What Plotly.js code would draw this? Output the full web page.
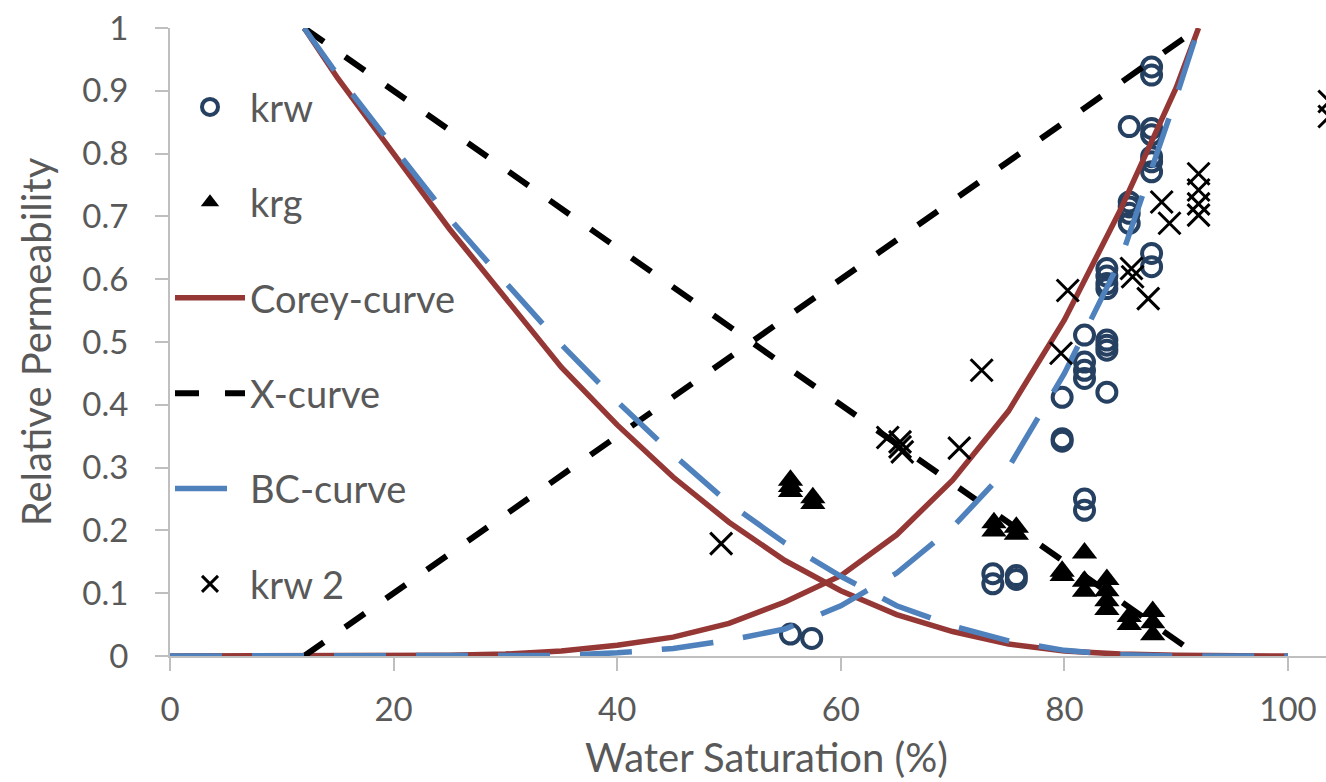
<!DOCTYPE html>
<html>
<head>
<meta charset="utf-8">
<script src="https://cdn.plot.ly/plotly-3.0.1.min.js"></script>
<style>
html,body{margin:0;padding:0;background:#fff;}
#chart{width:1326px;height:782px;}
</style>
</head>
<body>
<div id="chart"></div>
<script>
// ---- data ----
const krwSw = [55.5,57.4,73.6,73.6,75.7,75.7,79.8,79.8,79.8,81.8,81.8,81.8,81.8,81.8,81.8,83.8,83.8,83.8,83.8,83.8,83.8,83.8,83.8,85.8,85.8,85.8,85.8,85.8,87.8,87.8,87.8,87.8,87.8,87.8,87.8,87.8,87.8];
const krwVal = [0.035,0.028,0.131,0.115,0.128,0.122,0.346,0.342,0.412,0.25,0.232,0.511,0.468,0.455,0.442,0.42,0.503,0.495,0.487,0.617,0.605,0.593,0.585,0.689,0.705,0.715,0.723,0.843,0.62,0.641,0.771,0.787,0.795,0.83,0.84,0.925,0.938];

const krgSw = [55.5,55.5,55.5,57.5,57.5,73.7,73.7,75.7,75.7,79.8,79.8,81.8,81.8,81.8,83.8,83.8,83.8,83.8,85.8,85.8,87.9,87.9,87.9];
const krgVal = [0.28,0.27,0.262,0.252,0.243,0.212,0.199,0.205,0.194,0.135,0.128,0.164,0.119,0.103,0.122,0.104,0.088,0.074,0.063,0.05,0.071,0.053,0.034];

const krw2Sw = [49.3,64.2,65.3,65.3,65.5,70.6,72.6,79.7,80.3,86.0,86.1,87.5,88.7,89.4,92,92,92,92,103.7,103.7];
const krw2Val = [0.179,0.348,0.341,0.333,0.325,0.331,0.455,0.482,0.582,0.617,0.604,0.569,0.723,0.689,0.768,0.742,0.72,0.702,0.883,0.859];

const riseSw = [0,5,10,15,20,25,30,35,40,45,50,55,60,65,70,75,80,85,90,92];
const fallSw = [12,15,20,25,30,35,40,45,50,55,60,65,70,75,80,85,90,95,100];

const coreyRise = [0,0,0,0,0,0.001,0.003,0.008,0.017,0.03,0.052,0.086,0.128,0.193,0.28,0.39,0.535,0.71,0.905,1.0];
const coreyFall = [1.0,0.92,0.80,0.68,0.57,0.46,0.368,0.285,0.213,0.152,0.104,0.066,0.039,0.019,0.008,0.003,0.001,0,0];

const bcRise = [0,0,0,0,0,0,0,0.001,0.005,0.012,0.025,0.043,0.08,0.132,0.205,0.30,0.45,0.63,0.89,1.0];
const bcFall = [1.0,0.925,0.81,0.697,0.595,0.496,0.405,0.321,0.243,0.18,0.127,0.08,0.048,0.024,0.009,0.002,0,0,0];

const xRiseSw = [12,92];
const xRise = [0,1];
const xFallSw = [12,92];
const xFall = [1,0];

const xTicks = [0,20,40,60,80,100];

// ---- helpers: join rising and falling branches into one trace ----
function join(a, b){ return a.concat([null], b); }

const FONT = 'Lato, "Open Sans", sans-serif';
const GREY = '#595959';

const traces = [
  {name:'krw', x:krwSw, y:krwVal, type:'scatter', mode:'markers', legendgroup:'a',
   marker:{symbol:'circle-open', size:19, color:'#254061', line:{width:4, color:'#254061'}}},
  {name:'krg', x:krgSw, y:krgVal, type:'scatter', mode:'markers', legendgroup:'b',
   marker:{symbol:'triangle-up', size:22, color:'#000000'}},
  {name:'Corey-curve', x:join(riseSw, fallSw), y:join(coreyRise, coreyFall), type:'scatter', mode:'lines', legendgroup:'c',
   line:{color:'#953735', width:5.5}, connectgaps:false},
  {name:'X-curve', x:join(xRiseSw, xFallSw), y:join(xRise, xFall), type:'scatter', mode:'lines', legendgroup:'d',
   line:{color:'#000000', width:6, dash:'24px,26px'}, connectgaps:false},
  {name:'BC-curve', x:join(riseSw, fallSw), y:join(bcRise, bcFall), type:'scatter', mode:'lines', legendgroup:'e',
   line:{color:'#4F81BD', width:5.5, dash:'52px,30px'}, connectgaps:false},
  {name:'krw 2', x:krw2Sw, y:krw2Val, type:'scatter', mode:'markers', legendgroup:'f',
   marker:{symbol:'x-thin-open', size:22, color:'#000000', line:{width:3, color:'#000000'}}}
];

const layout = {
  width:1326, height:782,
  paper_bgcolor:'#ffffff', plot_bgcolor:'#ffffff',
  margin:{l:170, r:0, t:28, b:126},
  font:{family:FONT, size:33, color:GREY},
  showlegend:true,
  legend:{x:0, xanchor:'left', y:0.924, yanchor:'top', traceorder:'grouped', tracegroupgap:43,
          font:{family:FONT, size:38, color:GREY}, bgcolor:'rgba(0,0,0,0)', itemwidth:70},
  xaxis:{range:[0,103.4], tickvals:xTicks, ticks:'outside', ticklen:13, tickwidth:2, tickcolor:'#BFBFBF',
         showline:true, linecolor:'#BFBFBF', linewidth:2, showgrid:false, zeroline:false,
         tickfont:{family:FONT, size:33, color:GREY}, ticklabelstandoff:10},
  yaxis:{range:[0,1], dtick:0.1, tick0:0, ticks:'outside', ticklen:13, tickwidth:2, tickcolor:'#BFBFBF',
         showline:true, linecolor:'#BFBFBF', linewidth:2, showgrid:false, zeroline:false,
         tickfont:{family:FONT, size:33, color:GREY}, ticklabelstandoff:20,
         title:{text:'Relative Permeability', font:{family:FONT, size:40, color:GREY}, standoff:18}},
  annotations:[{text:'Water Saturation (%)', xref:'paper', yref:'paper', x:0.5164, y:-0.161,
                xanchor:'center', yanchor:'middle', showarrow:false,
                font:{family:FONT, size:40, color:GREY}}]
};

Plotly.newPlot('chart', traces, layout, {staticPlot:true, displayModeBar:false});
</script>
</body>
</html>
